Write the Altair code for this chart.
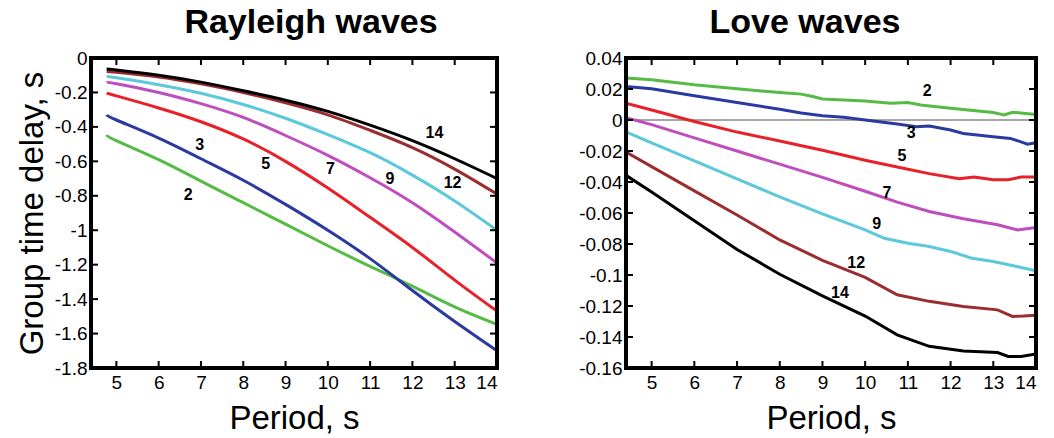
import altair as alt
import pandas as pd

FONT = "Liberation Sans"
NB = "\u00a0"

series_names = ["2", "3", "5", "7", "9", "12", "14"]
series_colors = ["#55BB44", "#2B3AA0", "#E8202A", "#BE4EBE", "#5BC8DC", "#9A2E2E", "#000000"]

# ---------------- Rayleigh waves ----------------
ray_period = [4.77, 5, 6, 7, 8, 9, 10, 11, 12, 13, 14]
ray_2 = [-0.447, -0.48, -0.59, -0.715, -0.84, -0.965, -1.09, -1.21, -1.325, -1.445, -1.547]
ray_3 = [-0.33, -0.36, -0.465, -0.585, -0.71, -0.85, -1.0, -1.165, -1.35, -1.53, -1.70]
ray_5 = [-0.204, -0.22, -0.29, -0.37, -0.47, -0.60, -0.755, -0.925, -1.10, -1.29, -1.47]
ray_7 = [-0.142, -0.15, -0.20, -0.265, -0.345, -0.45, -0.565, -0.695, -0.84, -1.01, -1.19]
ray_9 = [-0.107, -0.115, -0.155, -0.205, -0.27, -0.35, -0.445, -0.55, -0.68, -0.83, -1.0]
ray_12 = [-0.078, -0.083, -0.11, -0.15, -0.20, -0.26, -0.33, -0.42, -0.52, -0.645, -0.79]
ray_14 = [-0.064, -0.07, -0.10, -0.14, -0.19, -0.245, -0.31, -0.39, -0.48, -0.585, -0.70]

ray_label_text = ["2", "3", "5", "7", "9", "12", "14"]
ray_label_period = [6.70, 6.97, 8.53, 10.06, 11.47, 12.95, 12.52]
ray_label_value = [-0.798, -0.506, -0.613, -0.642, -0.70, -0.726, -0.438]

ray_yticks = [0, -0.2, -0.4, -0.6, -0.8, -1, -1.2, -1.4, -1.6, -1.8]
ray_inner_yticks = [-0.2, -0.4, -0.6, -0.8, -1, -1.2, -1.4, -1.6]

# ---------------- Love waves ----------------
love_2_p = [4.4, 5, 6, 7, 8, 8.5, 8.8, 9, 10, 10.6, 11, 11.3, 12, 13, 13.25, 13.45, 13.7, 14]
love_2_v = [0.0271, 0.026, 0.0227, 0.0201, 0.0177, 0.0167, 0.0150, 0.0136, 0.0123, 0.0108, 0.0113,
            0.0097, 0.0076, 0.0048, 0.0032, 0.005, 0.0043, 0.0035]
love_3_p = [4.4, 5, 6, 7, 8, 8.5, 9, 9.5, 10, 10.75, 11.2, 11.5, 12, 12.3, 13, 13.4, 13.65, 13.8, 14]
love_3_v = [0.0216, 0.0201, 0.0156, 0.0113, 0.0069, 0.0045, 0.0028, 0.0018, 0.0, -0.0026, -0.0043,
            -0.0039, -0.0065, -0.0087, -0.0108, -0.0119, -0.0141, -0.0156, -0.0147]
love_5_p = [4.4, 5, 6, 7, 8, 9, 10, 10.75, 11.5, 12.2, 12.55, 13, 13.35, 13.65, 14]
love_5_v = [0.0108, 0.0065, -0.001, -0.0078, -0.0135, -0.0195, -0.026, -0.0303, -0.0346, -0.0379,
            -0.0368, -0.0385, -0.0385, -0.0368, -0.0368]
love_7_p = [4.4, 5, 6, 7, 8, 9, 10, 10.75, 11.5, 12.3, 13.1, 13.57, 14]
love_7_v = [0.0015, -0.003, -0.0115, -0.020, -0.0285, -0.037, -0.046, -0.053, -0.059, -0.0637,
            -0.0676, -0.0709, -0.0694]
love_9_p = [4.4, 5, 6, 7, 8, 9, 10, 10.45, 11, 11.5, 12, 12.5, 13, 13.55, 14]
love_9_v = [-0.0076, -0.0147, -0.0264, -0.038, -0.0496, -0.0605, -0.0709, -0.0763, -0.0795, -0.0816,
            -0.0848, -0.0892, -0.0913, -0.0945, -0.0973]
love_12_p = [4.4, 5, 6, 7, 8, 9, 10, 10.75, 11.5, 12.3, 13.1, 13.45, 13.7, 14]
love_12_v = [-0.0206, -0.0301, -0.0457, -0.0613, -0.0774, -0.0905, -0.1015, -0.1128, -0.117, -0.1203,
             -0.1225, -0.1267, -0.1265, -0.126]
love_14_p = [4.4, 5, 6, 7, 8, 9, 10, 10.75, 11.5, 12.3, 13.1, 13.35, 13.65, 14]
love_14_v = [-0.0357, -0.0465, -0.0650, -0.0835, -0.0995, -0.1135, -0.1265, -0.1386, -0.146, -0.149,
             -0.150, -0.1525, -0.1525, -0.151]

love_label_text = ["2", "3", "5", "7", "9", "12", "14"]
love_label_period = [11.45, 11.08, 10.86, 10.51, 10.27, 9.79, 9.41]
love_label_value = [0.0184, -0.0082, -0.0232, -0.047, -0.0672, -0.0924, -0.1117]

love_yticks = [0.04, 0.02, 0, -0.02, -0.04, -0.06, -0.08, -0.1, -0.12, -0.14, -0.16]
love_inner_yticks = [0.02, 0, -0.02, -0.04, -0.06, -0.08, -0.1, -0.12, -0.14]

period_ticks = [5, 6, 7, 8, 9, 10, 11, 12, 13, 14]
inner_xticks = [5, 6, 7, 8, 9, 10, 11, 12, 13]

# ---------------- build tables ----------------
ray_rows = []
for name, vals in zip(series_names, [ray_2, ray_3, ray_5, ray_7, ray_9, ray_12, ray_14]):
    for p, v in zip(ray_period, vals):
        ray_rows.append({"series": name, "period": p, "value": v})
ray_df = pd.DataFrame(ray_rows)

love_rows = []
for name, ps, vs in zip(series_names,
                        [love_2_p, love_3_p, love_5_p, love_7_p, love_9_p, love_12_p, love_14_p],
                        [love_2_v, love_3_v, love_5_v, love_7_v, love_9_v, love_12_v, love_14_v]):
    for p, v in zip(ps, vs):
        love_rows.append({"series": name, "period": p, "value": v})
love_df = pd.DataFrame(love_rows)

ray_lab = pd.DataFrame({"text": ray_label_text, "period": ray_label_period, "value": ray_label_value})
love_lab = pd.DataFrame({"text": love_label_text, "period": love_label_period, "value": love_label_value})

color_scale = alt.Scale(domain=series_names, range=series_colors)


def panel(df, lab, xdom, ydom, yvals, yinner, width, height, title, title_dx,
          label_expr, y_title, interp, zero_line):
    xs = alt.Scale(domain=xdom, nice=False, zero=False)
    ys = alt.Scale(domain=ydom, nice=False, zero=False)
    y_axis_kw = dict(values=yvals, labelExpr=label_expr, ticks=False, domain=False, grid=False,
                     labelFontSize=19, labelPadding=4, labelColor="black", labelFont=FONT)
    if y_title:
        y_axis = alt.Axis(title=y_title, titleFontSize=33, titleFontWeight="normal",
                          titleColor="black", titleFont=FONT, titlePadding=5, **y_axis_kw)
    else:
        y_axis = alt.Axis(title=None, **y_axis_kw)
    x_axis = alt.Axis(values=period_ticks, format="d", ticks=False, domain=False, grid=False,
                      labelFontSize=19, labelPadding=5, labelColor="black", labelFont=FONT,
                      title="Period, s", titleFontSize=33, titleFontWeight="normal",
                      titleColor="black", titleFont=FONT, titlePadding=10)

    lines = alt.Chart(df).mark_line(strokeWidth=3, interpolate=interp, clip=True).encode(
        x=alt.X("period:Q", scale=xs, axis=x_axis),
        y=alt.Y("value:Q", scale=ys, axis=y_axis),
        color=alt.Color("series:N", scale=color_scale, legend=None),
        detail="series:N",
    )
    labels = alt.Chart(lab).mark_text(font=FONT, fontSize=16, fontWeight="bold", color="black").encode(
        x=alt.X("period:Q", scale=xs, axis=x_axis),
        y=alt.Y("value:Q", scale=ys, axis=y_axis),
        text="text:N",
    )
    xt = pd.DataFrame({"period": inner_xticks})
    yt = pd.DataFrame({"value": yinner})
    tl = 7
    bot = alt.Chart(xt).mark_rule(color="black", strokeWidth=2).encode(
        x=alt.X("period:Q", scale=xs, axis=x_axis), y=alt.value(height), y2=alt.value(height - tl))
    top = alt.Chart(xt).mark_rule(color="black", strokeWidth=2).encode(
        x=alt.X("period:Q", scale=xs, axis=x_axis), y=alt.value(0), y2=alt.value(tl))
    lft = alt.Chart(yt).mark_rule(color="black", strokeWidth=2).encode(
        y=alt.Y("value:Q", scale=ys, axis=y_axis), x=alt.value(0), x2=alt.value(tl))
    rgt = alt.Chart(yt).mark_rule(color="black", strokeWidth=2).encode(
        y=alt.Y("value:Q", scale=ys, axis=y_axis), x=alt.value(width), x2=alt.value(width - tl))
    frame = alt.Chart(pd.DataFrame({"value": [0]})).mark_rect(
        fill="transparent", stroke="black", strokeWidth=4).encode(
        x=alt.value(0), x2=alt.value(width), y=alt.value(0), y2=alt.value(height))

    layers = []
    if zero_line:
        z = alt.Chart(pd.DataFrame({"value": [0]})).mark_rule(color="#888888", strokeWidth=1.5).encode(
            y=alt.Y("value:Q", scale=ys, axis=y_axis))
        layers.append(z)
    layers += [lines, labels, bot, top, lft, rgt, frame]
    return alt.layer(*layers).properties(
        width=width, height=height,
        title=alt.TitleParams(title, fontSize=34, fontWeight="bold", font=FONT, color="black",
                              anchor="middle", dx=title_dx, offset=9),
    )


ray_expr = f"(datum.value % 1 == 0) ? (datum.value + '{NB}{NB}{NB}') : ('' + datum.value)"
love_expr = f"(datum.value == 0) ? ('0{NB}{NB}{NB}') : ('' + datum.value)"

left = panel(ray_df, ray_lab, [4.4, 14], [-1.8, 0], ray_yticks, ray_inner_yticks, 406, 310,
             "Rayleigh waves", 17, ray_expr, "Group time delay, s", "natural", False)
right = panel(love_df, love_lab, [4.4, 14], [-0.16, 0.04], love_yticks, love_inner_yticks, 410, 310,
              "Love waves", -26, love_expr, None, "linear", True)

chart = alt.hconcat(left, right, spacing=78).properties(
    padding={"left": 15, "top": 5, "right": 2, "bottom": 2}
).configure(font=FONT, background="white").configure_view(stroke="transparent")

chart.save("out.html", embed_options={"renderer": "svg", "actions": False})
